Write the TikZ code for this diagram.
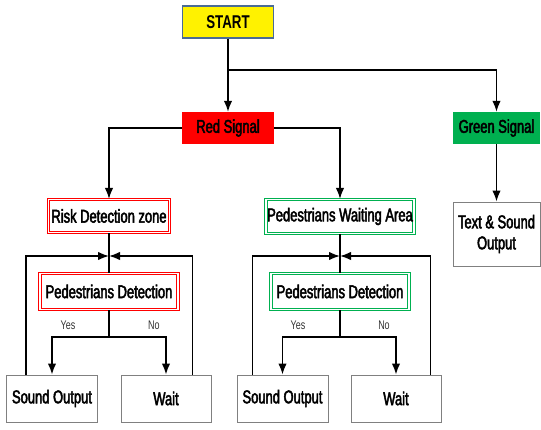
\documentclass[tikz,border=0pt]{standalone}
\usepackage{fontspec}
\setmainfont{Liberation Sans}[FakeStretch=0.72]
\newfontfamily\lab{Liberation Sans}[FakeStretch=0.7,FakeBold=2.5]
\usetikzlibrary{arrows.meta}
\definecolor{startborder}{HTML}{4A6B96}
\definecolor{sgreen}{HTML}{00B050}
\definecolor{sred}{HTML}{FF0000}
\definecolor{gborder}{HTML}{808080}
\definecolor{lbl}{HTML}{333333}
\begin{document}
\begin{tikzpicture}[x=1pt,y=-1pt,
  every node/.style={inner sep=0pt,align=center},
  txt/.style={font=\lab\fontsize{18.5}{21}\selectfont},
  plainbox/.style={txt,draw=gborder,line width=1pt,fill=white},
  redd/.style={txt,draw=sred,line width=1.1pt,double=white,double distance=1.1pt},
  greend/.style={txt,draw=sgreen,line width=1.1pt,double=white,double distance=1.1pt},
  conn/.style={line width=1.6pt,draw=black},
  arr/.style={conn,-{Latex[length=11pt,width=8.5pt]}},
  yn/.style={font=\fontsize{12.5}{13}\selectfont,text=lbl}]
\useasboundingbox (0,0) rectangle (541,429);
% nodes
\node[txt,font=\bfseries\fontsize{18.5}{21}\selectfont,fill=yellow,draw=startborder,line width=1.6pt,minimum width=91pt,minimum height=32pt] (start) at (228,22) {START};
\node[txt,fill=sred,minimum width=92pt,minimum height=32pt] (red) at (228,128) {Red Signal};
\node[txt,fill=sgreen,minimum width=87pt,minimum height=32pt] (green) at (496.5,128) {Green Signal};
\node[redd,minimum width=121pt,minimum height=33pt] (risk) at (109,216) {Risk Detection zone};
\node[greend,minimum width=148pt,minimum height=34pt] (pwa) at (340,216.5) {Pedestrians Waiting Area};
\node[plainbox,minimum width=87pt,minimum height=64pt] (tso) at (496.5,234) {Text \& Sound\\Output};
\node[redd,minimum width=138pt,minimum height=36pt] (pd1) at (109,291.5) {Pedestrians Detection};
\node[greend,minimum width=138pt,minimum height=36pt] (pd2) at (340,291.5) {Pedestrians Detection};
\node[plainbox,minimum width=91pt,minimum height=47pt] (so1) at (52,398.5) {Sound Output};
\node[plainbox,minimum width=90pt,minimum height=47pt] (w1) at (166,398.5) {Wait};
\node[plainbox,minimum width=91pt,minimum height=47pt] (so2) at (282.5,398.5) {Sound Output};
\node[plainbox,minimum width=90pt,minimum height=47pt] (w2) at (396,398.5) {Wait};
\node[yn] (yes1) at (68,325) {Yes};
\node[yn] (no1) at (154,325) {No};
\node[yn] (yes2) at (298,325) {Yes};
\node[yn] (no2) at (384,325) {No};
% coordinates
\coordinate (t1) at (228,70);
\coordinate (j1) at (109,256);
\coordinate (s1) at (109,337);
\coordinate (j2) at (340,256);
\coordinate (s2) at (340,337);
% connectors top
\draw[conn] (start.south) -- (t1);
\draw[arr] (t1) -- (red.north);
\draw[arr] (t1) -| (green.north);
\draw[arr] (green.south) -- (tso.north);
\draw[arr] (red.west) -| (risk.north);
\draw[arr] (red.east) -| (pwa.north);
% left group
\draw[conn] (risk.south) -- (pd1.north);
\draw[arr] ([xshift=20pt]so1.north west) |- (j1);
\draw[arr] ([xshift=-19pt]w1.north east) |- (j1);
\draw[conn] (pd1.south) -- (s1);
\draw[arr] (s1) -| (so1.north);
\draw[arr] (s1) -| (w1.north);
% right group
\draw[conn] (pwa.south) -- (pd2.north);
\draw[arr] ([xshift=16pt]so2.north west) |- (j2);
\draw[arr] ([xshift=-11pt]w2.north east) |- (j2);
\draw[conn] (pd2.south) -- (s2);
\draw[arr] (s2) -| (so2.north);
\draw[arr] (s2) -| (w2.north);
\end{tikzpicture}
\end{document}
